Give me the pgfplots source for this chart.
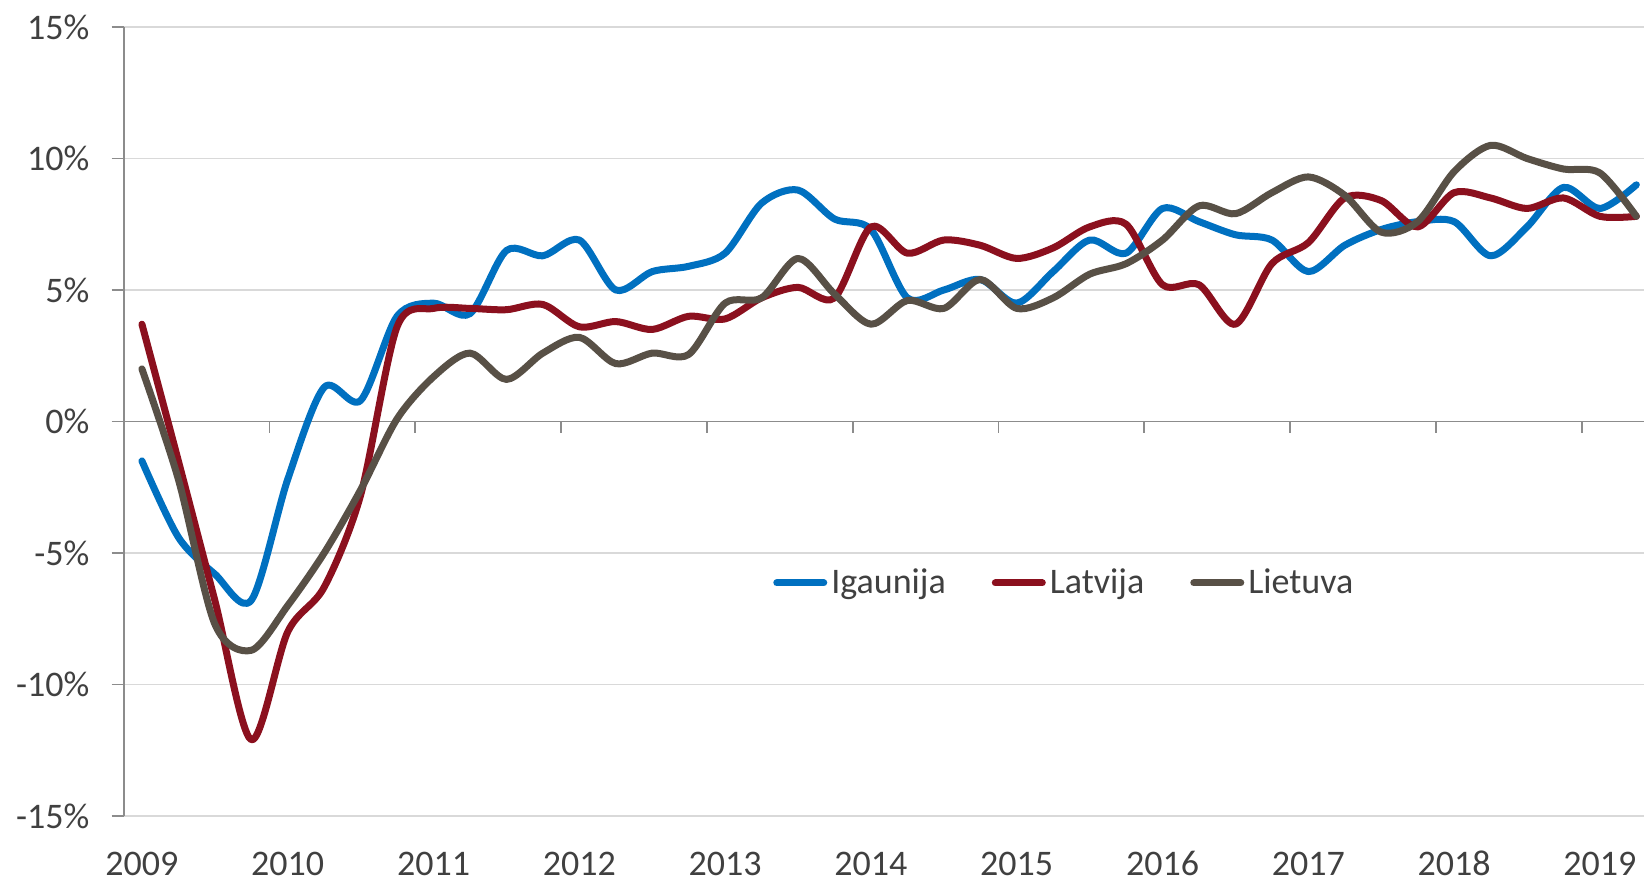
\documentclass[border=0pt]{standalone}
\usepackage{pgfplots}
\pgfplotsset{compat=1.18}
\usepackage{fontspec}
\setmainfont{Carlito}
\definecolor{cblue}{RGB}{0,112,192}
\definecolor{cred}{RGB}{139,16,30}
\definecolor{cgray}{RGB}{88,80,70}
\definecolor{ctext}{RGB}{64,64,64}
\definecolor{caxis}{RGB}{140,140,140}
\definecolor{cgrid}{RGB}{217,217,217}
\begin{document}
\begin{tikzpicture}
\useasboundingbox (-61.85pt,-33pt) rectangle (760.15pt,408pt);
\begin{axis}[
  at={(0pt,0pt)}, anchor=south west,
  scale only axis, width=760.15pt, height=394.5pt,
  xmin=-0.5, xmax=41.21, ymin=-15, ymax=15,
  axis x line*=bottom, x axis line style={draw=none},
  axis y line*=left, y axis line style={draw=caxis, line width=0.9pt},
  xtick={0,4,8,12,16,20,24,28,32,36,40},
  xticklabels={2009,2010,2011,2012,2013,2014,2015,2016,2017,2018,2019},
  xtick style={draw=none},
  ytick={-15,-10,-5,0,5,10,15},
  yticklabels={-15\%,-10\%,-5\%,0\%,5\%,10\%,15\%},
  ytick style={draw=caxis, line width=0.9pt},
  tick align=outside, major tick length=6pt,
  ymajorgrids, grid style={draw=cgrid, line width=0.9pt},
  tick label style={font=\fontsize{18}{21}\selectfont, text=ctext},
  yticklabel style={inner sep=0pt, xshift=-11pt},
  xticklabel style={anchor=base, inner sep=0pt, yshift=-24pt},
  clip=false,
  legend style={draw=none, fill=none, at={(axis cs:17.31,-6.14)}, anchor=west,
    inner sep=0pt, legend columns=-1, font=\fontsize{18}{21}\selectfont, text=ctext,
    nodes={inner sep=0pt},
    /tikz/every odd column/.append style={column sep=2pt},
    /tikz/every even column/.append style={column sep=23pt}},
  legend image code/.code={\draw[#1, line width=3.5pt, line cap=round] (0pt,0pt) -- (23.5pt,0pt);},
  every axis plot/.append style={line width=3.5pt, line cap=round, line join=round, smooth, tension=0.5},
]
\draw[caxis, line width=0.9pt] (axis cs:-0.5,0) -- (axis cs:41.21,0);
\pgfplotsinvokeforeach{3.5,7.5,11.5,15.5,19.5,23.5,27.5,31.5,35.5,39.5}{
  \draw[caxis, line width=0.9pt] (axis cs:#1,0) -- ([yshift=-6pt]axis cs:#1,0);
}
\addplot[cblue] coordinates {
(0,-1.5)(1,-4.4)(2,-5.8)(3,-6.8)(4,-2.2)(5,1.3)(6,0.8)(7,4.0)(8,4.5)(9,4.1)
(10,6.5)(11,6.3)(12,6.9)(13,5.0)(14,5.7)(15,5.9)(16,6.4)(17,8.3)(18,8.8)(19,7.7)
(20,7.3)(21,4.7)(22,5.0)(23,5.4)(24,4.5)(25,5.7)(26,6.9)(27,6.4)(28,8.1)(29,7.6)
(30,7.1)(31,6.9)(32,5.7)(33,6.7)(34,7.3)(35,7.6)(36,7.6)(37,6.3)(38,7.4)(39,8.9)
(40,8.1)(41,9.0)};
\addlegendentry{Igaunija}
\addplot[cred] coordinates {
(0,3.7)(1,-1.5)(2,-6.8)(3,-12.1)(4,-8.0)(5,-6.3)(6,-2.8)(7,3.6)(8,4.3)(9,4.3)
(10,4.25)(11,4.45)(12,3.6)(13,3.8)(14,3.5)(15,4.0)(16,3.9)(17,4.7)(18,5.1)(19,4.7)
(20,7.4)(21,6.4)(22,6.9)(23,6.7)(24,6.2)(25,6.6)(26,7.4)(27,7.5)(28,5.2)(29,5.2)
(30,3.7)(31,6.0)(32,6.8)(33,8.5)(34,8.4)(35,7.4)(36,8.7)(37,8.5)(38,8.1)(39,8.5)
(40,7.8)(41,7.8)};
\addlegendentry{Latvija}
\addplot[cgray] coordinates {
(0,2.0)(1,-2.2)(2,-7.7)(3,-8.7)(4,-7.0)(5,-5.0)(6,-2.6)(7,0.1)(8,1.7)(9,2.6)
(10,1.6)(11,2.6)(12,3.2)(13,2.2)(14,2.6)(15,2.55)(16,4.5)(17,4.7)(18,6.2)(19,4.85)
(20,3.7)(21,4.6)(22,4.3)(23,5.4)(24,4.3)(25,4.7)(26,5.6)(27,6.0)(28,6.9)(29,8.2)
(30,7.9)(31,8.7)(32,9.3)(33,8.6)(34,7.2)(35,7.6)(36,9.5)(37,10.5)(38,10.0)(39,9.6)
(40,9.45)(41,7.8)};
\addlegendentry{Lietuva}
\end{axis}
\end{tikzpicture}
\end{document}
